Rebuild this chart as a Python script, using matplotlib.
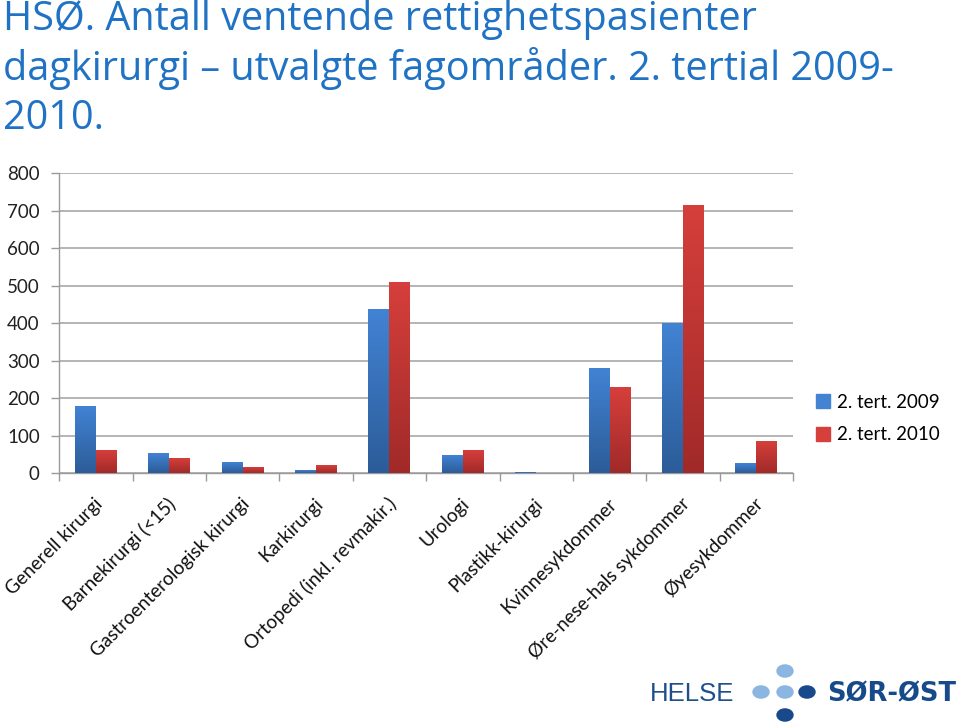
import matplotlib
matplotlib.use("Agg")
import matplotlib.pyplot as plt
import numpy as np
from matplotlib.colors import LinearSegmentedColormap
from matplotlib.patches import Circle
from matplotlib.transforms import ScaledTranslation

categories = ["Generell kirurgi", "Barnekirurgi (<15)", "Gastroenterologisk kirurgi",
              "Karkirurgi", "Ortopedi (inkl. revmakir.)", "Urologi", "Plastikk-kirurgi",
              "Kvinnesykdommer", "Øre-nese-hals sykdommer", "Øyesykdommer"]
series_names = ["2. tert. 2009", "2. tert. 2010"]
values_2009 = [177, 52, 29, 6, 435, 46, 2, 278, 399, 25]
values_2010 = [59, 39, 15, 21, 507, 59, 0, 227, 713, 85]
yticks = [0, 100, 200, 300, 400, 500, 600, 700, 800]
title_lines = ["HSØ. Antall ventende rettighetspasienter",
               "dagkirurgi – utvalgte fagområder. 2. tertial 2009-",
               "2010."]

blue_top, blue_bot = "#4283d4", "#2c5c98"
red_top, red_bot = "#d63f3b", "#a02a29"

fig = plt.figure(figsize=(9.6, 7.26), dpi=100)
fig.patch.set_facecolor("white")
ax = fig.add_axes([59.3/960, 1-473.3/726, (793-59.3)/960, 300/726])

x = np.arange(len(categories))
w = 0.286
bars1 = ax.bar(x - w/2, values_2009, w, color=blue_top, zorder=3, label=series_names[0])
bars2 = ax.bar(x + w/2, values_2010, w, color=red_top, zorder=3, label=series_names[1])

grad = np.linspace(1, 0, 256).reshape(-1, 1)
for bars, (ct, cb) in ((bars1, (blue_top, blue_bot)), (bars2, (red_top, red_bot))):
    cmap = LinearSegmentedColormap.from_list("g", [cb, ct])
    for p in bars:
        h = p.get_height()
        if h <= 0:
            continue
        x0 = p.get_x(); x1 = x0 + p.get_width()
        ax.imshow(grad, extent=[x0, x1, 0, h], aspect="auto", cmap=cmap,
                  zorder=4, origin="upper", interpolation="bicubic")

ax.set_xlim(-0.5, len(categories) - 0.5)
ax.set_ylim(0, 800)
ax.set_yticks(yticks)
ax.set_yticklabels([str(v) for v in yticks], fontsize=13.5, family="Lato", color="#222222")
ax.set_xticks(np.arange(len(categories) + 1) - 0.5, minor=True)
ax.set_xticks(x)
ax.set_xticklabels(categories, rotation=45, ha="right", va="center",
                   rotation_mode="anchor", fontsize=13.6, family="Lato", color="#111111")
ax.tick_params(axis="x", which="major", length=0, pad=20)
ax.tick_params(axis="x", which="minor", length=6, color="#9a9a9a", width=1)
ax.tick_params(axis="y", length=6, color="#9a9a9a", width=1, pad=8)
ax.yaxis.grid(True, color="#a8a8a8", linewidth=1.2, zorder=0)
ax.set_axisbelow(True)
for s in ("top", "right"):
    ax.spines[s].set_visible(False)
for s in ("left", "bottom"):
    ax.spines[s].set_color("#9a9a9a")
    ax.spines[s].set_linewidth(1)
shift = ScaledTranslation(4/100, 0, fig.dpi_scale_trans)
for lbl in ax.get_xticklabels():
    lbl.set_transform(lbl.get_transform() + shift)

leg = fig.legend(handles=[bars1, bars2], labels=series_names, loc="upper left",
                 bbox_to_anchor=(808/960, 1-386/726), frameon=False,
                 prop={"family": "Lato", "size": 13.5}, handlelength=0.75,
                 handleheight=0.75, handletextpad=0.4, labelspacing=0.85, borderaxespad=0)
for h, c in zip(leg.legend_handles, (blue_top, red_top)):
    h.set_color(c)

for line, base in zip(title_lines, (30, 80, 129)):
    fig.text(3/960, 1-base/726, line, ha="left", va="baseline", fontsize=28.5,
             family="Open Sans", color="#1f72c4")

# logo
fig.text(650/960, 1-701/726, "HELSE", ha="left", va="baseline", fontsize=18.5,
         family="Liberation Sans", color="#1d4f8c")
fig.text(827/960, 1-701/726, "SØR-ØST", ha="left", va="baseline", fontsize=18.5,
         family="DejaVu Sans", weight="bold", color="#174a8b")
light, dark = "#8ab6e1", "#18498b"
for (cx, cy, c) in ((785, 671, light), (761, 692, light), (785, 692, light),
                    (807, 692, dark), (785, 715, dark)):
    fig.patches.append(Circle((cx/960, 1-cy/726), 8/960, transform=fig.transFigure,
                              color=c))

fig.savefig("out.png", dpi=100)
